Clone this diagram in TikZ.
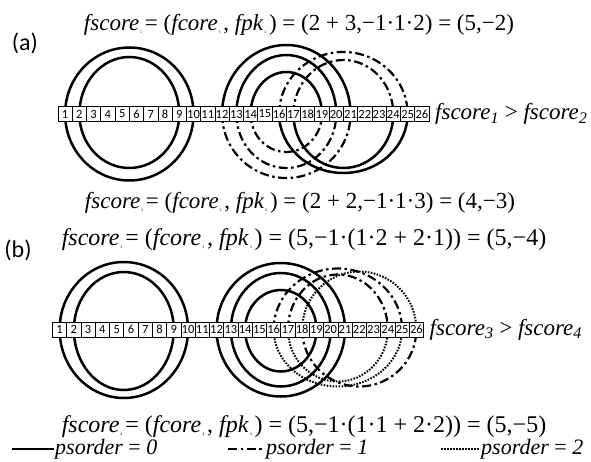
\documentclass[tikz,border=0pt]{standalone}
\usepackage{fontspec}
\setmainfont{Liberation Serif}
\newfontfamily\cellfont{Carlito}
\usetikzlibrary{positioning, backgrounds}

% tiny index as printed in the equations
\newcommand{\tsub}[1]{\kern0.04em\raisebox{-0.12em}{\fontsize{4}{4}\selectfont #1}\kern0.12em}
\newcommand{\cellw}{14.27}
% base pair arcs between two cells of a row
\newcommand{\uparc}[5]{\draw[#4] (#1#2.center) arc[start angle=180, end angle=0, x radius={(#3-#2)*\cellw/2}, y radius=#5];}
\newcommand{\downarc}[5]{\draw[#4] (#1#2.center) arc[start angle=180, end angle=360, x radius={(#3-#2)*\cellw/2}, y radius=#5];}

\begin{document}
\begin{tikzpicture}[
  x=1pt, y=1pt,
  cell/.style={draw, line width=0.7pt, fill=white, minimum width=14.27pt,
               minimum height=15pt, inner sep=0pt, outer sep=0pt,
               font=\cellfont\fontsize{12.5}{12.5}\selectfont},
  pk0/.style={line width=2.5pt},
  pk1/.style={line width=2.2pt, dash pattern=on 9pt off 3.5pt on 2.5pt off 3.5pt},
  pk2/.style={line width=2pt, dash pattern=on 1.6pt off 1.4pt},
  eq/.style={font=\fontsize{23}{23}\selectfont, inner sep=0pt},
  leg/.style={font=\fontsize{22}{22}\selectfont, inner sep=1pt, anchor=west},
  tag/.style={font=\cellfont\fontsize{24}{24}\selectfont, inner sep=0pt},
]
  \useasboundingbox (0,0) rectangle (591,461);

  % (a)
  \node[tag] (taga) at (25,418) {(a)};
  \node[eq] (eq1) at (299,436) {\textit{fscore}\tsub{1} = (\textit{fcore}\tsub{1}, \textit{fpk}\tsub{1}) = (2 + 3,−1·1·2) = (5,−2)};
  \node[cell] (a1) at (65.1,347) {1};
  \foreach \i [remember=\i as \p (initially 1)] in {2,...,26}
    \node[cell, right=0pt of a\p] (a\i) {\i};
  \node[eq, right=6pt of a26] (cmpa) {\textit{fscore\textsubscript{1}} > \textit{fscore\textsubscript{2}}};
  \node[eq] (eq2) at (300,258) {\textit{fscore}\tsub{2} = (\textit{fcore}\tsub{2}, \textit{fpk}\tsub{2}) = (2 + 2,−1·1·3) = (4,−3)};

  \begin{scope}[on background layer]
    \uparc{a}{1}{10}{pk0}{66.5} \downarc{a}{1}{10}{pk0}{66.5}
    \uparc{a}{2}{9}{pk0}{57} \downarc{a}{2}{9}{pk0}{54}
    \uparc{a}{12}{21}{pk0}{69} \uparc{a}{13}{20}{pk0}{59} \uparc{a}{14}{19}{pk0}{42}
    \uparc{a}{16}{25}{pk1}{62} \uparc{a}{17}{24}{pk1}{54}
    \downarc{a}{12}{21}{pk1}{64} \downarc{a}{13}{20}{pk1}{54} \downarc{a}{14}{19}{pk1}{38}
    \downarc{a}{16}{25}{pk0}{59} \downarc{a}{17}{24}{pk0}{54}
  \end{scope}

  % (b)
  \node[tag] (tagb) at (18,211) {(b)};
  \node[eq, font=\fontsize{24}{24}\selectfont] (eq3) at (304,221) {\textit{fscore}\tsub{3} = (\textit{fcore}\tsub{3}, \textit{fpk}\tsub{3}) = (5,−1·(1·2 + 2·1)) = (5,−4)};
  \node[cell] (b1) at (59.6,131.5) {1};
  \foreach \i [remember=\i as \p (initially 1)] in {2,...,26}
    \node[cell, right=0pt of b\p] (b\i) {\i};
  \node[eq, right=6pt of b26] (cmpb) {\textit{fscore\textsubscript{3}} > \textit{fscore\textsubscript{4}}};
  \node[eq, font=\fontsize{24}{24}\selectfont] (eq4) at (304,34) {\textit{fscore}\tsub{4} = (\textit{fcore}\tsub{4}, \textit{fpk}\tsub{4}) = (5,−1·(1·1 + 2·2)) = (5,−5)};

  \begin{scope}[on background layer]
    \uparc{b}{1}{10}{pk0}{67.5} \downarc{b}{1}{10}{pk0}{68.5}
    \uparc{b}{2}{9}{pk0}{57.5} \downarc{b}{2}{9}{pk0}{60.5}
    \uparc{b}{12}{21}{pk0}{66.5} \uparc{b}{13}{20}{pk0}{56.5} \uparc{b}{14}{19}{pk0}{39.5}
    \downarc{b}{12}{21}{pk0}{67} \downarc{b}{13}{20}{pk0}{57} \downarc{b}{14}{19}{pk0}{42}
    \uparc{b}{16}{25}{pk1}{61} \uparc{b}{17}{24}{pk1}{55}
    \uparc{b}{18}{26}{pk2}{58}
    \downarc{b}{16}{25}{pk2}{57} \downarc{b}{17}{24}{pk2}{52}
    \downarc{b}{18}{26}{pk1}{57}
  \end{scope}

  % legend
  \coordinate (s0) at (12,12);
  \node[leg] (l0) at (54,12) {\textit{psorder} = \textit{0}};
  \draw[pk0] (s0) -- (l0.west);
  \coordinate (s1) at (228,12);
  \node[leg] (l1) at (265,12) {\textit{psorder} = \textit{1}};
  \draw[pk1] (s1) -- (l1.west);
  \coordinate (s2) at (441,12);
  \node[leg] (l2) at (480,12) {\textit{psorder} = \textit{2}};
  \draw[pk2] (s2) -- (l2.west);
\end{tikzpicture}
\end{document}
